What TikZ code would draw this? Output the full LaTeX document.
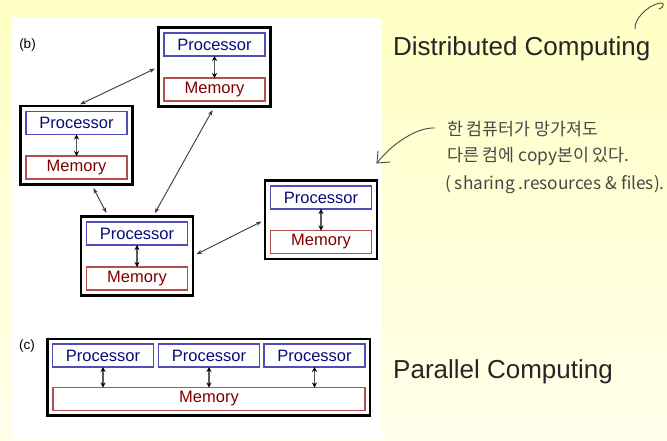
\documentclass[tikz,border=0pt]{standalone}
\usepackage{fontspec}
\setmainfont{Liberation Sans}
\newfontfamily\kfont{Noto Sans CJK KR}
\usetikzlibrary{arrows.meta,fit,calc}

\definecolor{bgtop}{RGB}{255,255,196}
\definecolor{bgbot}{RGB}{255,255,234}
\definecolor{procline}{RGB}{78,78,184}
\definecolor{procText}{RGB}{10,10,120}
\definecolor{memline}{RGB}{178,80,80}
\definecolor{memText}{RGB}{128,0,0}
\definecolor{inkgray}{RGB}{72,72,72}

\tikzset{
  unitbox/.style={draw=procline,fill=white,line width=1.3pt,inner sep=0pt,outer sep=0pt,
    minimum width=101pt,minimum height=23pt,font=\fontsize{16.5}{18}\selectfont},
  proc/.style={unitbox,draw=procline,text=procText},
  mem/.style={unitbox,draw=memline,text=memText},
  machine/.style={draw=black,line width=2.6pt,inner sep=5.5pt,outer sep=0pt},
  link/.style={draw=gray!45!black,line width=0.9pt,
    {Stealth[length=5.5pt,width=4pt]}-{Stealth[length=5.5pt,width=4pt]},
    shorten <=4pt,shorten >=4pt},
  bus/.style={draw=gray!70!black,line width=1.8pt,
    {Stealth[length=5pt,width=5pt,black]}-{Stealth[length=5pt,width=5pt,black]}},
  caption/.style={text=black!85,font=\fontsize{26}{30}\selectfont,anchor=base west,inner sep=0pt},
  tag/.style={font=\fontsize{13.5}{15}\selectfont,inner sep=0pt},
  note/.style={text=inkgray,font=\kfont\fontsize{17.3}{20}\selectfont,anchor=west,inner sep=0pt},
  pen/.style={draw=inkgray,line width=0.9pt,line cap=round,line join=round}
}

\begin{document}
\begin{tikzpicture}[x=1pt,y=-1pt]
  % page and the white drawing panel
  \useasboundingbox (0,0) rectangle (667,440);
  \fill[top color=bgtop,bottom color=bgbot] (0,0) rectangle (667,440);
  \fill[white] (12,17) rectangle (382,440);

  % (b) four separate machines, each with its own memory
  \node[tag] (tagb) at (27.5,45.5) {(b)};

  \node[proc] (pA) at (214.5,44.5) {Processor};
  \node[mem]  (mA) at (214.5,89.5) {Memory};
  \node[proc] (pB) at (76.5,123)   {Processor};
  \node[mem]  (mB) at (76.5,167.5) {Memory};
  \node[proc] (pC) at (321,197.5)  {Processor};
  \node[mem]  (mC) at (321,242)    {Memory};
  \node[proc] (pD) at (137,233.5)  {Processor};
  \node[mem]  (mD) at (137,278.5)  {Memory};

  \node[machine,fit=(pA)(mA)] (A) {};
  \node[machine,fit=(pB)(mB)] (B) {};
  \node[machine,fit=(pC)(mC)] (C) {};
  \node[machine,fit=(pD)(mD)] (D) {};

  \foreach \u in {A,B,C,D}
    \draw[bus] (p\u.south) -- (m\u.north);

  % network links between the machines
  \draw[link] (B.north) -- (A.west);
  \draw[link] (A.south) -- (D.68);
  \draw[link] (B.-69) -- (D.126);
  \draw[link] (D.east) -- (C.west);

  % (c) several processors sharing one memory
  \node[tag] (tagc) at (27,345.5) {(c)};

  \node[proc] (q1) at (103,355.5)   {Processor};
  \node[proc] (q2) at (209,355.5)   {Processor};
  \node[proc] (q3) at (314.5,355.5) {Processor};
  \node[mem,minimum width=312pt] (shm) at (209,399) {Memory};
  \node[machine,inner sep=5pt,fit=(q1)(q3)(shm)] (P) {};

  \foreach \q in {q1,q2,q3}
    \draw[bus] (\q.south) -- (\q.south |- shm.north);

  % titles
  \node[caption] (dist) at (393,55.5) {Distributed Computing};
  \node[caption] (para) at (393,378)  {Parallel Computing};

  % handwritten remark
  \node[note] (n1) at (447,129) {한 컴퓨터가 망가져도};
  \node[note] (n2) at (447,156) {다른 컴에 copy본이 있다.};
  \node[note] (n3) at (445,185) {( sharing .resources \& files).};
  \coordinate (tip) at (377,163);
  \draw[pen] (n1.west) ++(-12,-1) .. controls (420,127) and (395,140) .. (tip);
  \draw[pen] (tip) -- (378,151);
  \draw[pen] (tip) -- (390,162);

  % pen stroke in the top corner
  \draw[pen] (635,29) .. controls (634,20) and (646,6) .. (660,3)
             .. controls (665,2) and (664,8) .. (659,9);
\end{tikzpicture}
\end{document}
